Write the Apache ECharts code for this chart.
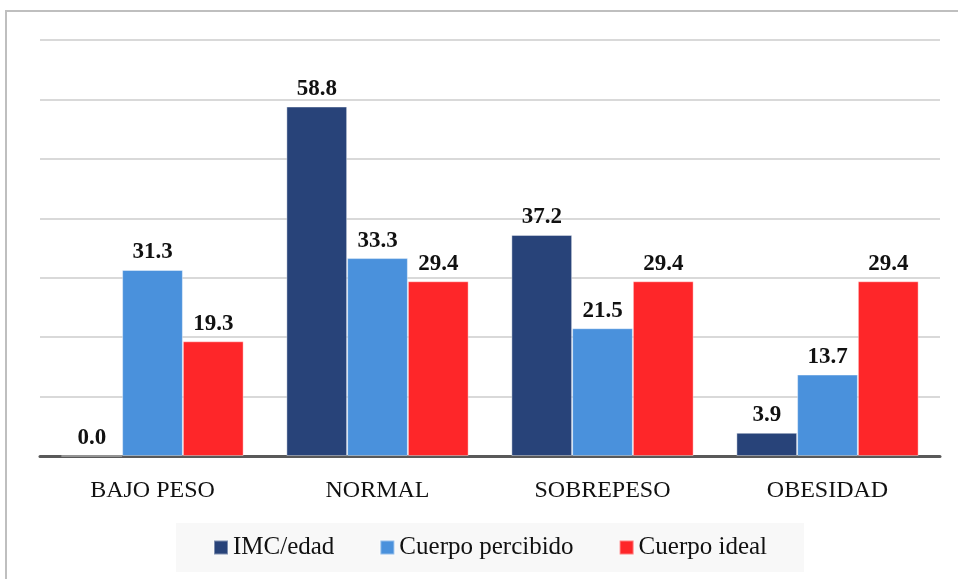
<!DOCTYPE html>
<html>
<head>
<meta charset="utf-8">
<script src="https://cdn.jsdelivr.net/npm/echarts@6/dist/echarts.min.js"></script>
<style>
  html, body { margin: 0; padding: 0; background: #fff; }
  #chart { width: 958px; height: 579px; }
</style>
</head>
<body>
<div id="chart"></div>
<script>
// Categorías de IMC y porcentajes por serie
const categories = ['BAJO PESO', 'NORMAL', 'SOBREPESO', 'OBESIDAD'];
const imcEdad = [0.0, 58.8, 37.2, 3.9];
const cuerpoPercibido = [31.3, 33.3, 21.5, 13.7];
const cuerpoIdeal = [19.3, 29.4, 29.4, 29.4];
const seriesNames = ['IMC/edad', 'Cuerpo percibido', 'Cuerpo ideal'];
const seriesColors = ['#284379', '#4a91dc', '#fe2629'];

const FONT = '"Liberation Serif", "DejaVu Serif", serif';

const chart = echarts.init(document.getElementById('chart'), null, { renderer: 'canvas' });

function barSeries(name, data, color) {
  return {
    name: name,
    type: 'bar',
    data: data,
    barGap: '0%',
    barCategoryGap: '19%',
    itemStyle: { color: color, borderColor: 'rgba(255,255,255,0.4)', borderWidth: 1 },
    label: {
      show: true,
      position: 'top',
      distance: 6,
      formatter: p => p.value.toFixed(1),
      fontFamily: FONT,
      fontWeight: 'bold',
      fontSize: 23,
      color: '#111'
    }
  };
}

chart.setOption({
  animation: false,
  backgroundColor: '#fff',
  textStyle: { fontFamily: FONT },
  graphic: [{
    type: 'rect',
    shape: { x: 6, y: 11, width: 970, height: 600 },
    style: { fill: 'none', stroke: '#bfbfbf', lineWidth: 2 },
    z: -1
  }],
  grid: { left: 40, right: 18, top: 40, bottom: 123 },
  legend: {
    data: seriesNames,
    bottom: 7,
    left: 176,
    itemWidth: 14,
    itemHeight: 14,
    itemGap: 45,
    padding: [12, 37, 12, 37],
    backgroundColor: '#f8f8f8',
    icon: 'rect',
    textStyle: { fontFamily: FONT, fontSize: 25, color: '#111', padding: [0, 0, 0, 0] }
  },
  xAxis: {
    type: 'category',
    data: categories,
    axisLine: { lineStyle: { color: '#595959', width: 3 } },
    axisTick: { show: false },
    axisLabel: { fontFamily: FONT, fontSize: 24, color: '#111', margin: 23 }
  },
  yAxis: {
    type: 'value',
    min: 0,
    max: 70,
    interval: 10,
    axisLine: { show: false },
    axisTick: { show: false },
    axisLabel: { show: false },
    splitLine: { lineStyle: { color: '#d9d9d9', width: 2 } }
  },
  series: [
    barSeries(seriesNames[0], imcEdad, seriesColors[0]),
    barSeries(seriesNames[1], cuerpoPercibido, seriesColors[1]),
    barSeries(seriesNames[2], cuerpoIdeal, seriesColors[2])
  ]
});
</script>
</body>
</html>
